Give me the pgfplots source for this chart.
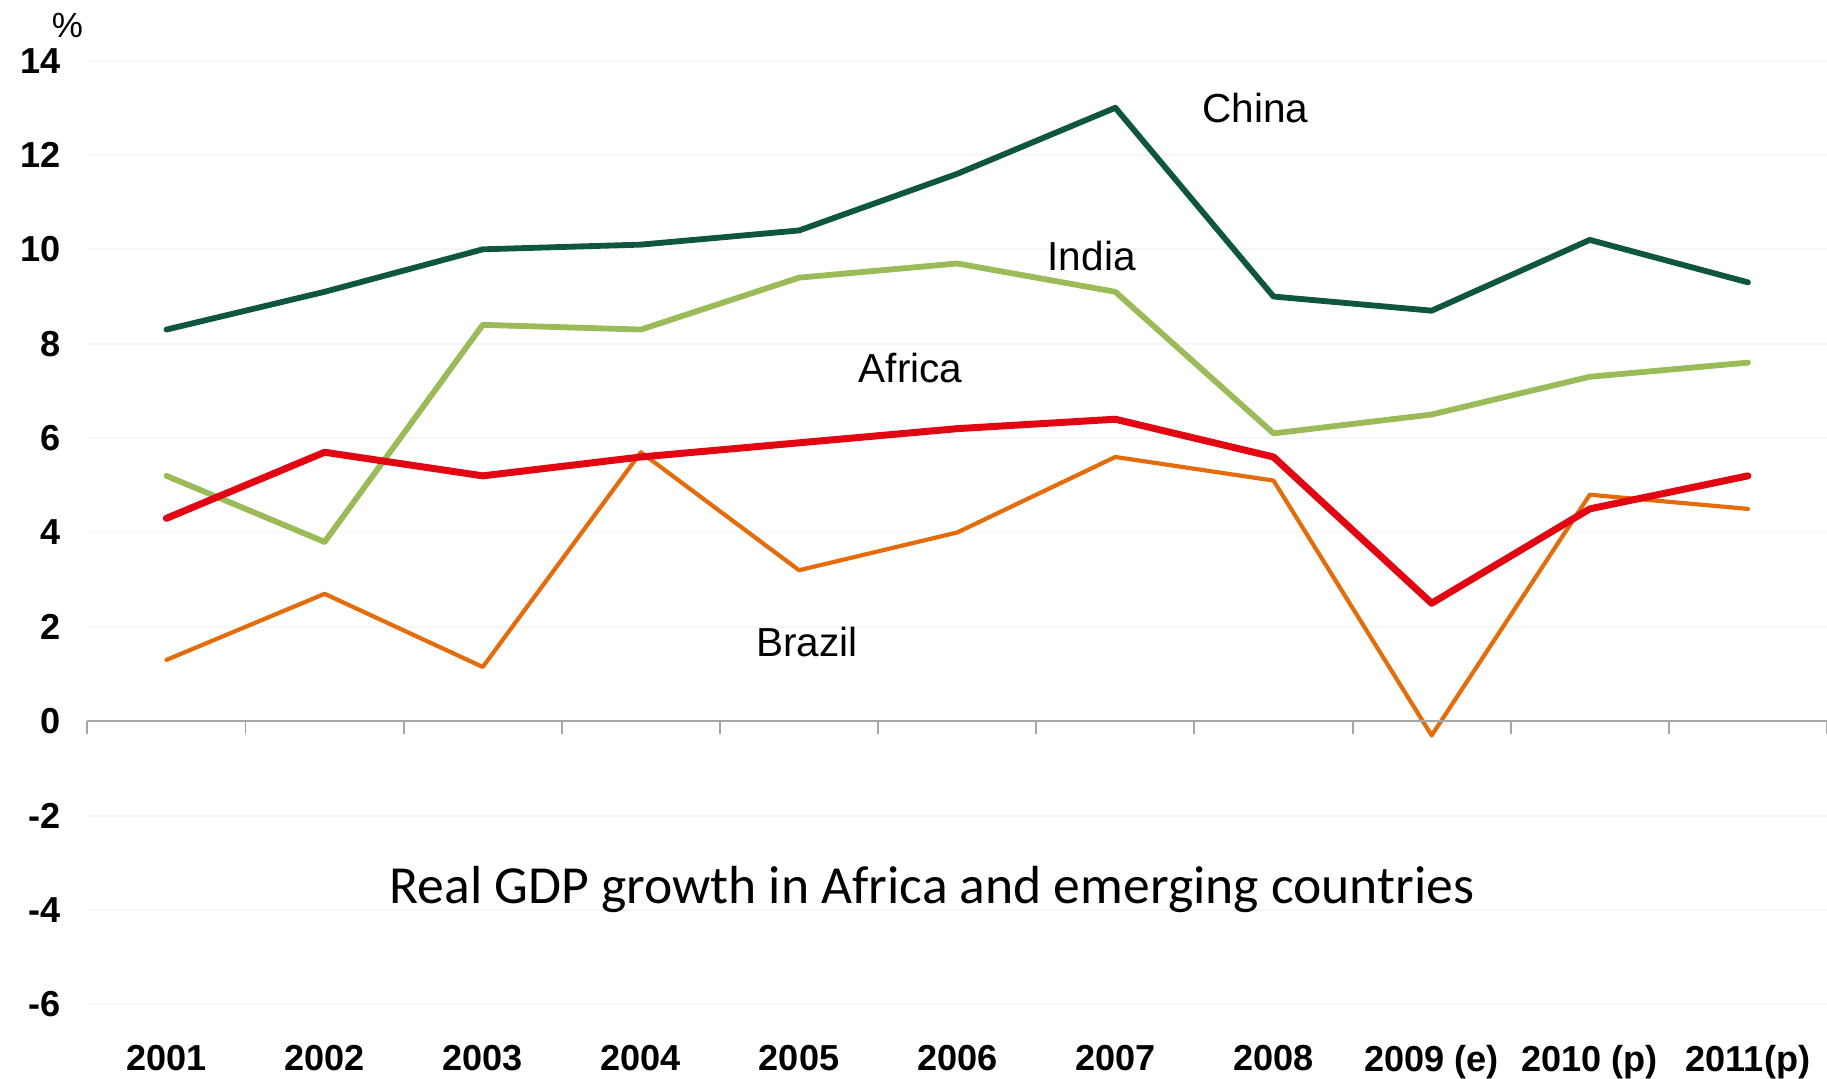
\documentclass[border=0pt]{standalone}
\usepackage{pgfplots}
\pgfplotsset{compat=1.18}
\usepackage{fontspec}
\setmainfont{Liberation Sans}
\newfontfamily\calibri{Carlito}
\definecolor{china}{HTML}{0E5640}
\definecolor{india}{HTML}{9BBB59}
\definecolor{africa}{HTML}{E20613}
\definecolor{brazil}{HTML}{E46C0A}
\begin{document}
\begin{tikzpicture}
\begin{axis}[
  scale only axis,
  width=746.5pt, height=405pt,
  xmin=-0.5, xmax=10.5, ymin=-6, ymax=14,
  axis line style={draw=none},
  clip=false,
  xtick={0,1,2,3,4,5,6,7,8,9,10},
  xticklabels={2001,2002,2003,2004,2005,2006,2007,2008,2009 (e),2010 (p),2011(p)},
  ytick={-6,-4,-2,0,2,4,6,8,10,12,14},
  ymajorgrids=true,
  grid style={gray!7, line width=0.8pt},
  major tick length=0pt,
  tick style={draw=none},
  /pgf/number format/assume math mode=true,
  xticklabel style={font=\fontsize{15.5}{16}\selectfont\bfseries, yshift=-14pt},
  yticklabel style={font=\fontsize{15.5}{16}\selectfont\bfseries, xshift=-8pt},
  every axis plot/.append style={line join=round, line cap=round},
]
\addplot[china, line width=2.5pt] coordinates {
(0,8.3) (1,9.1) (2,10.0) (3,10.1) (4,10.4) (5,11.6) (6,13.0) (7,9.0) (8,8.7) (9,10.2) (10,9.3)};
\addplot[india, line width=2.5pt] coordinates {
(0,5.2) (1,3.8) (2,8.4) (3,8.3) (4,9.4) (5,9.7) (6,9.1) (7,6.1) (8,6.5) (9,7.3) (10,7.6)};
\addplot[brazil, line width=1.8pt] coordinates {
(0,1.3) (1,2.7) (2,1.15) (3,5.7) (4,3.2) (5,4.0) (6,5.6) (7,5.1) (8,-0.3) (9,4.8) (10,4.5)};
\addplot[africa, line width=3pt] coordinates {
(0,4.3) (1,5.7) (2,5.2) (3,5.6) (4,5.9) (5,6.2) (6,6.4) (7,5.6) (8,2.5) (9,4.5) (10,5.2)};
% zero axis line with category boundary ticks
\draw[gray!70, line width=0.8pt] (axis cs:-0.5,0) -- (axis cs:10.5,0);
\pgfplotsinvokeforeach{-0.5,0.5,1.5,2.5,3.5,4.5,5.5,6.5,7.5,8.5,9.5,10.5}{
  \draw[gray!70, line width=0.8pt] (axis cs:#1,0) -- ([yshift=-5.5pt]axis cs:#1,0);
}
\node[font=\fontsize{17.4}{18}\selectfont] at (axis cs:6.885,12.99) {China};
\node[font=\fontsize{17.4}{18}\selectfont] at (axis cs:5.85,9.86) {India};
\node[font=\fontsize{17.4}{18}\selectfont] at (axis cs:4.706,7.49) {Africa};
\node[font=\fontsize{17.4}{18}\selectfont] at (axis cs:4.05,1.68) {Brazil};
\node[font=\calibri\fontsize{23}{24}\selectfont] at (axis cs:4.84,-3.57) {Real GDP growth in Africa and emerging countries};
\node[font=\fontsize{15}{16}\selectfont] at (axis cs:-0.626,14.74) {\%};
\end{axis}
\pgfresetboundingbox
\path ([xshift=-37.5pt,yshift=-32pt]current axis.south west) rectangle ([yshift=26pt]current axis.north east);
\end{tikzpicture}
\end{document}
